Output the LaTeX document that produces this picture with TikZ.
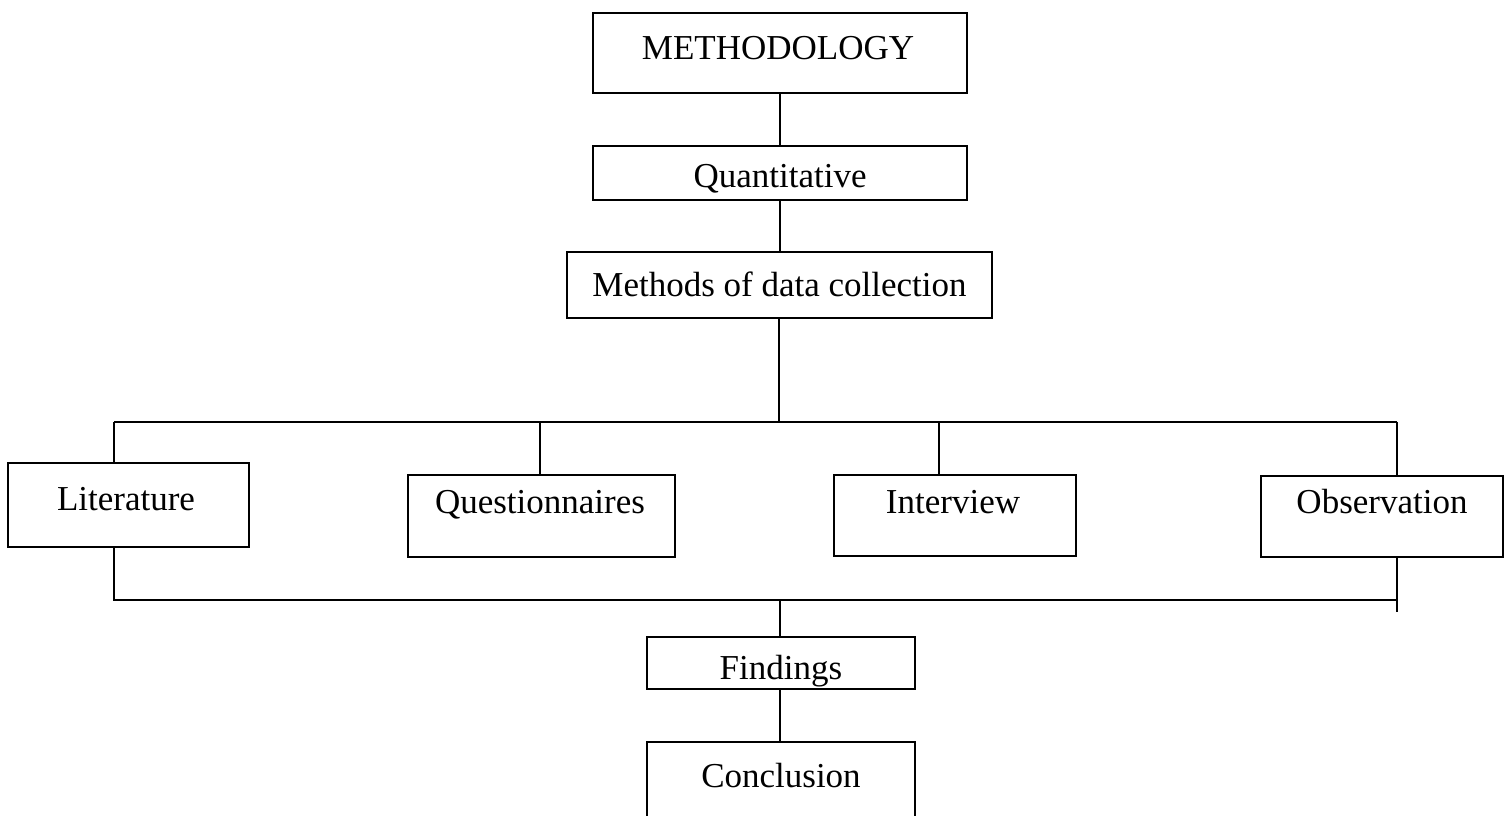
\documentclass[tikz,border=0pt]{standalone}
\usepackage{fontspec}
\setmainfont{Liberation Serif}
\begin{document}
\begin{tikzpicture}[x=1pt,y=1pt,
  box/.style={draw=black, line width=1.9pt, rectangle, inner sep=0pt},
  lbl/.style={font=\fontsize{35}{40}\selectfont, inner sep=0pt, anchor=base},
  conn/.style={draw=black, line width=1.9pt}]
\useasboundingbox (0,0) rectangle (1510,815);
\clip (0,0) rectangle (1510,815);
% boxes (y = 815 - image y)
\node[box, minimum width=374pt, minimum height=80pt] (meth) at (780,762) {};
\node[lbl] at (778,755) {METHODOLOGY};
\node[box, minimum width=374pt, minimum height=54pt] (quant) at (780,642) {};
\node[lbl] at (780,627) {Quantitative};
\node[box, minimum width=425pt, minimum height=66pt] (mdc) at (779.5,530) {};
\node[lbl] at (779.5,518) {Methods of data collection};
\node[box, minimum width=241pt, minimum height=84pt] (lit) at (128.5,310) {};
\node[lbl] at (126,305) {Literature};
\node[box, minimum width=267pt, minimum height=82pt] (ques) at (541.5,299) {};
\node[lbl] at (540,302) {Questionnaires};
\node[box, minimum width=242pt, minimum height=81pt] (inter) at (955,299.5) {};
\node[lbl] at (953,302) {Interview};
\node[box, minimum width=242pt, minimum height=81pt] (obs) at (1382,298.5) {};
\node[lbl] at (1382,302) {Observation};
\node[box, minimum width=268pt, minimum height=52pt] (find) at (781,152) {};
\node[lbl] at (781,136) {Findings};
\node[box, minimum width=268pt, minimum height=100pt] (concl) at (781,23) {};
\node[lbl] at (781,28) {Conclusion};
% bus coordinates
\coordinate (t1) at (114,393);
\coordinate (t2) at (1397,393);
\coordinate (tq) at (540,393);
\coordinate (ti) at (939,393);
\coordinate (tm) at (779,393);
\coordinate (b1) at (114,215);
\coordinate (b2) at (1397,215);
\coordinate (bend) at (1397,203);
\coordinate (bm) at (780,215);
% connectors
\draw[conn] (meth.south) -- (quant.north);
\draw[conn] (quant.south) -- (quant.south |- mdc.north);
\draw[conn] (tm |- mdc.south) -- (tm);
\draw[conn] (t1) -- (t2);
\draw[conn] (t1) -- (t1 |- lit.north);
\draw[conn] (tq) -- (tq |- ques.north);
\draw[conn] (ti) -- (ti |- inter.north);
\draw[conn] (t2) -- (t2 |- obs.north);
\draw[conn] (b1 |- lit.south) -- (b1) -- (b2);
\draw[conn] (b2 |- obs.south) -- (bend);
\draw[conn] (bm) -- (bm |- find.north);
\draw[conn] (bm |- find.south) -- (bm |- concl.north);
\end{tikzpicture}
\end{document}
